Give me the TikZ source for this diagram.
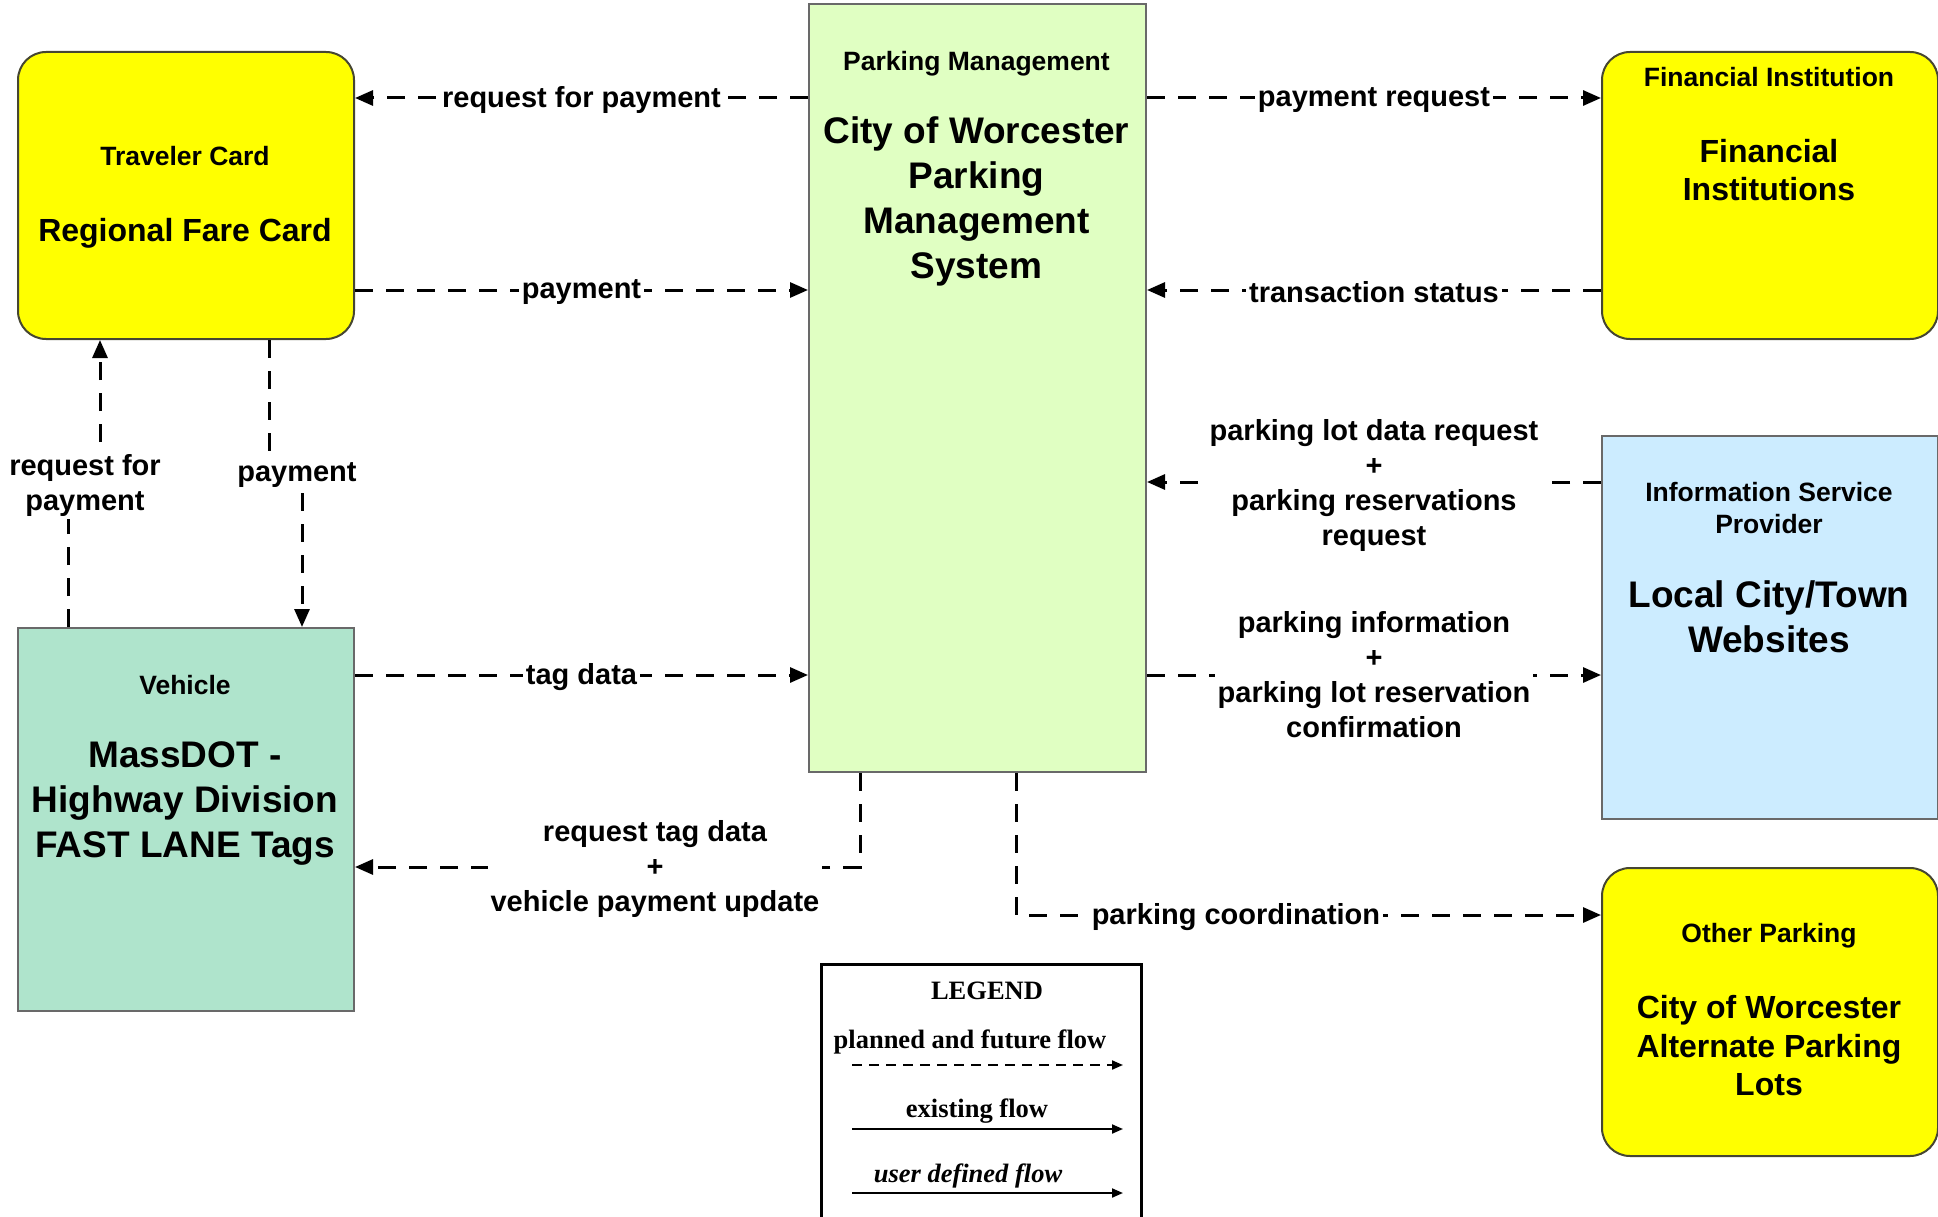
\documentclass[tikz,border=0pt]{standalone}
\usepackage{fontspec}
\setmainfont{Liberation Sans}
\newfontfamily\legendfont{Liberation Serif}
\usetikzlibrary{arrows.meta}
\definecolor{cYel}{RGB}{255,255,0}
\definecolor{cPM}{RGB}{224,255,194}
\definecolor{cVeh}{RGB}{175,228,204}
\definecolor{cISP}{RGB}{204,236,255}
\definecolor{cBorder}{RGB}{105,105,105}
\definecolor{cYBorder}{RGB}{70,70,50}
\newcommand\fsTitle{\fontsize{26.5}{32}\selectfont}
\newcommand\fsBig{\fontsize{37}{45}\selectfont}
\newcommand\fsMid{\fontsize{32}{38.5}\selectfont}
\newcommand\fsLbl{\fontsize{29}{35}\selectfont}
\newcommand\fsLeg{\fontsize{26.5}{32}\selectfont}
\begin{document}
\begin{tikzpicture}[x=1pt,y=-1pt,
  rbox/.style={draw=cBorder, line width=2pt, inner sep=0pt, anchor=north west},
  ybox/.style={draw=cYBorder, line width=2pt, inner sep=0pt, anchor=north west, fill=cYel, rounded corners=28pt},
  title/.style={font=\bfseries\fsTitle, inner sep=0pt, align=center},
  big/.style={font=\bfseries\fsBig, inner sep=0pt, align=center},
  mid/.style={font=\bfseries\fsMid, inner sep=0pt, align=center},
  flow/.style={line width=3pt, dash pattern=on 18pt off 13pt, -{Triangle[length=18pt,width=15pt]}},
  lbl/.style={font=\bfseries\fsLbl, fill=white, inner sep=3pt, align=center},
  lbl1/.style={lbl, yshift=-2.5pt},
  legtxt/.style={font=\legendfont\bfseries\fsLeg, inner sep=0pt},
  legdash/.style={line width=2pt, dash pattern=on 10pt off 7pt, -{Triangle[length=11pt,width=9pt]}},
  legsolid/.style={line width=2pt, -{Triangle[length=11pt,width=9pt]}}
]
\useasboundingbox (0,0) rectangle (1938,1217);
\clip (0,0) rectangle (1938,1217);

% boxes
\node[ybox, minimum width=336pt, minimum height=287pt] (tc) at (17,51) {};
\node[rbox, fill=cPM, minimum width=337pt, minimum height=768pt] (pm) at (808,3) {};
\node[ybox, minimum width=336pt, minimum height=287pt] (fi) at (1601,51) {};
\node[rbox, fill=cVeh, minimum width=336pt, minimum height=383pt] (veh) at (17,627) {};
\node[rbox, fill=cISP, minimum width=336pt, minimum height=383pt] (isp) at (1601,435) {};
\node[ybox, minimum width=336pt, minimum height=288pt] (op) at (1601,867) {};

% box texts
\node[title, anchor=base] (tcT) at (185,165.5) {Traveler Card};
\node[mid, anchor=base] (tcM) at (185,241.5) {Regional Fare Card};
\node[title, anchor=base] (pmT) at (976.5,70.5) {Parking Management};
\node[big] (pmM) at (976.5,201.5) {City of Worcester\\Parking\\Management\\System};
\node[title, anchor=base] (fiT) at (1769,86.5) {Financial Institution};
\node[mid] (fiM) at (1769,170) {Financial\\Institutions};
\node[title, anchor=base] (vehT) at (185,694.5) {Vehicle};
\node[big] (vehM) at (185,803) {MassDOT -\\Highway Division\\FAST LANE Tags};
\node[title] (ispT) at (1769,508) {Information Service\\Provider};
\node[big] (ispM) at (1769,616.5) {Local City/Town\\Websites};
\node[title, anchor=base] (opT) at (1769,942.5) {Other Parking};
\node[mid] (opM) at (1769,1045.7) {City of Worcester\\Alternate Parking\\Lots};

% helper coordinates
\coordinate (y98) at (0,98);
\coordinate (y290) at (0,290);
\coordinate (y482) at (0,482);
\coordinate (y675) at (0,675);
\coordinate (y867) at (0,867);
\coordinate (y915) at (0,915);
\coordinate (x860) at (860,0);
\coordinate (x1016) at (1016,0);
\coordinate (j1a) at (68,482);
\coordinate (j1b) at (100,482);
\coordinate (j2a) at (269,475);
\coordinate (j2b) at (302,475);

% connectors
\draw[flow] (pm.west |- y98) -- (tc.east |- y98) node[lbl1, midway] (l1) {request for payment};
\draw[flow] (tc.east |- y290) -- (pm.west |- y290) node[lbl1, midway] (l2) {payment};
\draw[flow] (pm.east |- y98) -- (fi.west |- y98) node[lbl1, midway] (l3) {payment request};
\draw[flow] (fi.west |- y290) -- (pm.east |- y290) node[lbl1, midway] (l4) {transaction status};
\draw[flow] (isp.west |- y482) -- (pm.east |- y482) node[lbl, midway, yshift=-3pt] (l5) {parking lot data request\\+\\parking reservations\\request};
\draw[flow] (pm.east |- y675) -- (isp.west |- y675) node[lbl, midway] (l6) {parking information\\+\\parking lot reservation\\confirmation};
\draw[flow] (veh.east |- y675) -- (pm.west |- y675) node[lbl1, midway] (l7) {tag data};
\draw[flow] (pm.south -| x860) |- (veh.east |- y867) node[lbl, pos=0.703, yshift=-2pt] (l8) {request tag data\\+\\vehicle payment update};
\draw[flow] (pm.south -| x1016) |- (op.west |- y915) node[lbl1, pos=0.688] (l9) {parking coordination};
\draw[flow] (veh.north -| j1a) -- (j1a) -- (j1b) -- (tc.south -| j1b);
\node[lbl] (l10) at (85,485) {request for\\payment};
\draw[flow] (tc.south -| j2a) -- (j2a) -- (j2b) -- (veh.north -| j2b);
\node[lbl] (l11) at (297,475) {payment};

% legend
\node[draw, line width=3pt, minimum width=320pt, minimum height=290pt, anchor=north west, inner sep=0pt] (leg) at (820,963) {};
\node[legtxt, anchor=base] (legT) at (987,999) {LEGEND};
\node[legtxt, anchor=base] (leg1) at (970,1048) {planned and future flow};
\node[legtxt, anchor=base] (leg2) at (977,1117) {existing flow};
\node[legtxt, anchor=base, font=\legendfont\bfseries\itshape\fsLeg] (leg3) at (968,1182) {user defined flow};
\coordinate (la1) at (852,1065); \coordinate (lb1) at (1123,1065);
\coordinate (la2) at (852,1129); \coordinate (lb2) at (1123,1129);
\coordinate (la3) at (852,1193); \coordinate (lb3) at (1123,1193);
\draw[legdash] (la1) -- (lb1);
\draw[legsolid] (la2) -- (lb2);
\draw[legsolid] (la3) -- (lb3);
\end{tikzpicture}
\end{document}
